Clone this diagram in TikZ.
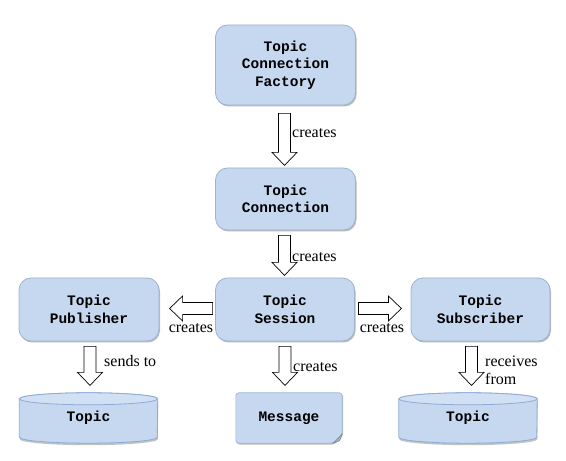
\documentclass[tikz,border=0pt]{standalone}
\usepackage{fontspec}
\setmainfont{Liberation Serif}
\newfontfamily\boxfont{Liberation Mono}
\usetikzlibrary{shadows,calc,backgrounds}
\definecolor{boxfill}{HTML}{C6D8F0}
\definecolor{boxline}{HTML}{9FB3CC}
\definecolor{cylline}{HTML}{8EAAD6}
\definecolor{cyltopfill}{HTML}{D2E0F3}
\tikzset{
  boxtext/.style={font=\boxfont\bfseries\fontsize{14.5}{17.5}\selectfont, align=center},
  box/.style={boxtext, draw=boxline, line width=0.8pt, fill=boxfill, rounded corners=12pt,
    minimum width=140pt, minimum height=63pt,
    drop shadow={shadow xshift=1pt, shadow yshift=-1.5pt, opacity=0.45, fill=black!60}},
  plainnode/.style={boxtext, inner sep=0pt},
  lbl/.style={font=\fontsize{16}{18}\selectfont, inner sep=0pt, align=left},
  barrowsty/.style={draw=black, line width=0.7pt, fill=white, line join=miter},
  cylsty/.style={draw=cylline, line width=0.8pt, fill=boxfill,
    drop shadow={shadow xshift=0.5pt, shadow yshift=-2pt, opacity=0.4, fill=black!60}},
  cyltop/.style={draw=cylline, line width=0.8pt, fill=cyltopfill},
  msgsty/.style={draw=boxline, line width=0.6pt, fill=boxfill, rounded corners=3pt,
    drop shadow={shadow xshift=1pt, shadow yshift=-1.5pt, opacity=0.45, fill=black!60}},
  pics/barrow/.style={code={
    \path[barrowsty] (0,-6) -- ({#1-13},-6) -- ({#1-13},-12.5) -- (#1,0)
      -- ({#1-13},12.5) -- ({#1-13},6) -- (0,6) -- cycle;}}
}
\newcommand{\drawcyl}[1]{%
  \path[cylsty] ($(#1.north west)+(0,-6)$) -- ($(#1.south west)+(0,6)$)
    arc[start angle=180, end angle=360, x radius=69pt, y radius=6pt]
    -- ($(#1.north east)+(0,-6)$)
    arc[start angle=0, end angle=180, x radius=69pt, y radius=6pt] -- cycle;
  \path[cyltop] ($(#1.north)+(0,-6)$) ellipse[x radius=69pt, y radius=6pt];
}
\begin{document}
\begin{tikzpicture}[x=1pt,y=1pt]
\useasboundingbox (0,0) rectangle (566,461);

% boxes
\node[box, minimum height=80pt] (factory) at (285.5,396) {Topic\\Connection\\Factory};
\node[box, minimum height=62pt] (conn) at (285.5,262) {Topic\\Connection};
\node[box, minimum width=139pt] (session) at (285,151.5) {Topic\\Session};
\node[box] (publisher) at (89,151.5) {Topic\\Publisher};
\node[box, minimum width=139pt] (subscriber) at (480.5,151.5) {Topic\\Subscriber};

% bottom shapes (text nodes, outlines on background)
\node[plainnode, minimum width=138pt, minimum height=50pt] (topicL) at (88.5,43) {Topic};
\node[plainnode, minimum width=106pt, minimum height=50pt] (message) at (289,43) {Message};
\node[plainnode, minimum width=138pt, minimum height=50pt] (topicR) at (468,43) {Topic};
\begin{scope}[on background layer]
  \drawcyl{topicL}
  \drawcyl{topicR}
  \path[msgsty] (message.north west) -- (message.north east)
    -- ($(message.south east)+(0,9)$) -- ($(message.south east)+(-9,0)$)
    -- (message.south west) -- cycle;
  \path[fill=boxline!80!black!70, draw=boxline!70!black] ($(message.south east)+(0,9)$)
    -- ($(message.south east)+(-9,0)$) -- ($(message.south east)+(-2.5,2.5)$) -- cycle;
\end{scope}

% block arrows
\pic[rotate=-90] at ($(factory.south)+(-1,-8)$) {barrow=52};
\pic[rotate=-90] at ($(conn.south)+(-1,-5)$) {barrow=40};
\pic[rotate=-90] at ($(session.south)+(0,-5)$) {barrow=39};
\pic[rotate=-90] at ($(publisher.south)+(1,-5)$) {barrow=39};
\pic[rotate=-90] at ($(subscriber.south)+(-9,-5)$) {barrow=39};
\pic[rotate=180] at ($(session.west)+(-2.5,1)$) {barrow=43};
\pic at ($(session.east)+(3.5,1)$) {barrow=43};

% labels
\node[lbl, anchor=west] (l1) at (292,328) {creates};
\node[lbl, anchor=west] (l2) at (292,204) {creates};
\node[lbl] (l3) at (191,133) {creates};
\node[lbl] (l4) at (382,133) {creates};
\node[lbl, anchor=west] (l5) at (104,99.5) {sends to};
\node[lbl, anchor=west] (l6) at (293,93.6) {creates};
\node[lbl, anchor=west] (l7) at (485,90.5) {receives\\from};
\end{tikzpicture}
\end{document}
